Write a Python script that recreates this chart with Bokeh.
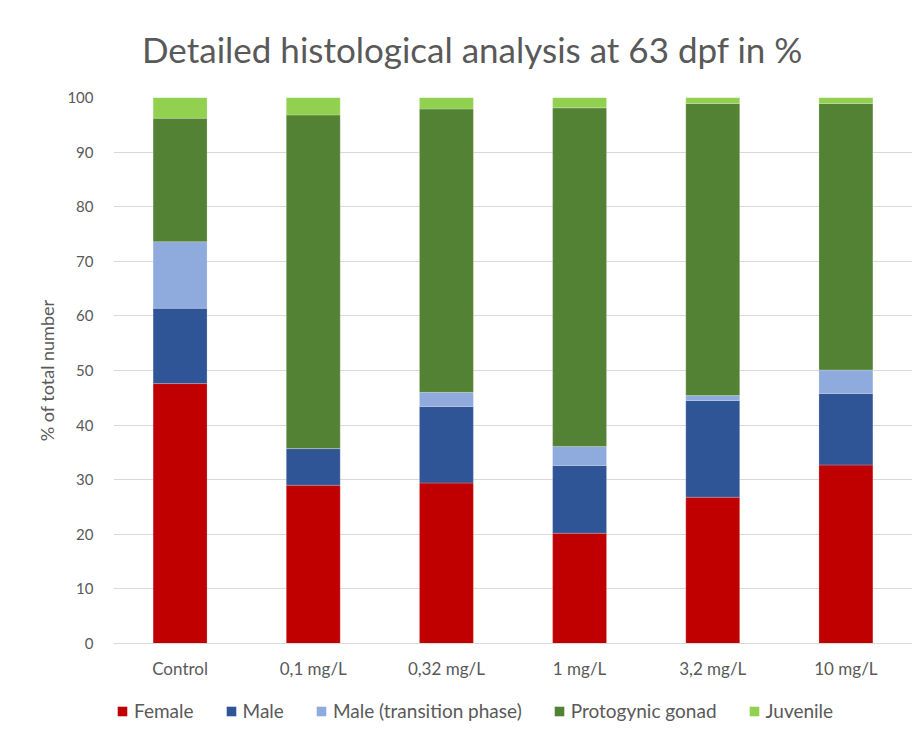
from bokeh.plotting import figure
from bokeh.embed import file_html
from bokeh.resources import INLINE
from bokeh.layouts import column
from bokeh.core.properties import value
from bokeh.models import ColumnDataSource, Legend, FixedTicker

title_text = "Detailed histological analysis at 63 dpf in %"
categories = ["Control", "0,1 mg/L", "0,32 mg/L", "1 mg/L", "3,2 mg/L", "10 mg/L"]
female = [47.6, 29.0, 29.4, 20.2, 26.8, 32.7]
male = [13.8, 6.7, 14.0, 12.4, 17.7, 13.1]
male_transition = [12.2, 0.0, 2.6, 3.5, 0.9, 4.3]
protogynic = [22.6, 61.1, 51.9, 62.0, 53.5, 48.8]
juvenile = [3.8, 3.2, 2.1, 1.9, 1.1, 1.1]

series = ["Female", "Male", "Male (transition phase)", "Protogynic gonad", "Juvenile"]
colors = ["#C00000", "#2F5597", "#8FAADC", "#548235", "#92D050"]
y_ticks = [0, 10, 20, 30, 40, 50, 60, 70, 80, 90, 100]

source = ColumnDataSource(data=dict(
    cat=categories,
    Female=female,
    Male=male,
    **{"Male (transition phase)": male_transition},
    **{"Protogynic gonad": protogynic},
    Juvenile=juvenile,
))

FONT = "Lato"
GREY = "#595959"

# title strip
tf = figure(x_range=(113, 912), y_range=(0, 80), width=912, height=80,
            output_backend="svg", toolbar_location=None,
            min_border_left=0, min_border_right=0, min_border_top=0, min_border_bottom=0)
tf.text(x=[472], y=[32], text=[title_text], text_font=value(FONT),
        text_font_size="35px", text_color=GREY, text_align="center",
        text_baseline="middle")
tf.axis.visible = False
tf.grid.visible = False
tf.outline_line_color = None

p = figure(x_range=categories, y_range=(0, 100), width=912, height=610,
           output_backend="svg", toolbar_location=None,
           min_border_left=113, min_border_right=0, min_border_top=17, min_border_bottom=47)

p.vbar_stack(series, x="cat", width=0.405, color=colors, source=source,
             line_color="white", line_width=0.4, line_alpha=0.5)

p.yaxis.ticker = FixedTicker(ticks=y_ticks)
p.yaxis.axis_line_color = None
p.yaxis.major_tick_line_color = None
p.yaxis.minor_tick_line_color = None
p.yaxis.major_label_standoff = 14
p.yaxis.major_label_text_font = FONT
p.yaxis.major_label_text_font_size = "15px"
p.yaxis.major_label_text_color = GREY
p.yaxis.axis_label = "% of total number"
p.yaxis.axis_label_text_font = FONT
p.yaxis.axis_label_text_font_size = "18px"
p.yaxis.axis_label_text_font_style = "normal"
p.yaxis.axis_label_text_color = GREY
p.yaxis.axis_label_standoff = 6

p.xaxis.axis_line_color = "#d9d9d9"
p.xaxis.major_tick_line_color = None
p.xaxis.minor_tick_line_color = None
p.xaxis.major_label_standoff = 8
p.xaxis.major_label_text_font = FONT
p.xaxis.major_label_text_font_size = "17px"
p.xaxis.major_label_text_color = GREY

p.xgrid.grid_line_color = None
p.ygrid.grid_line_color = "#d9d9d9"
p.ygrid.grid_line_width = 1
p.outline_line_color = None
p.x_range.range_padding = 0

# legend strip below the chart
lg = figure(x_range=categories, y_range=(1000, 1001), width=912, height=40,
            output_backend="svg", toolbar_location=None,
            min_border_left=0, min_border_right=0, min_border_top=0, min_border_bottom=0)
lrend = lg.vbar_stack(series, x="cat", width=0.405, color=colors, source=source,
                      line_color=None)
lg.axis.visible = False
lg.grid.visible = False
lg.outline_line_color = None

legend = Legend(items=[(s, [r]) for s, r in zip(series, lrend)],
                orientation="horizontal", location=(3, 8))
legend.label_text_font = FONT
legend.label_text_font_size = "19px"
legend.label_text_color = GREY
legend.glyph_width = 12
legend.glyph_height = 12
legend.label_standoff = 6
legend.spacing = 31
legend.border_line_color = None
legend.background_fill_alpha = 0
legend.padding = 0
legend.margin = 0
lg.add_layout(legend, "center")

layout = column(tf, p, lg, spacing=0)

open("out.html", "w").write(file_html(layout, INLINE))
